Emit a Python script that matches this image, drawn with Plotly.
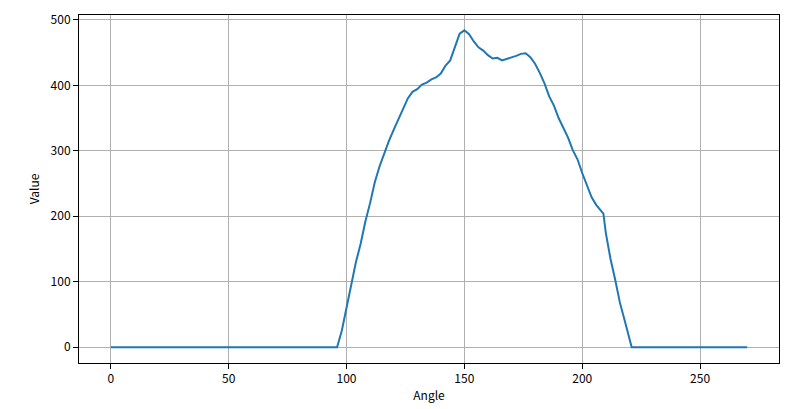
import plotly.graph_objects as go

angles = [0, 96, 98, 100, 102, 104, 106, 108, 110, 112, 114, 116, 118, 120,
          122, 124, 126, 128, 130, 132, 134, 136, 138, 140, 142, 144, 146,
          148, 150, 152, 154, 156, 158, 160, 162, 164, 166, 168, 170, 172,
          174, 176, 178, 180, 182, 184, 186, 188, 190, 192, 194, 196, 198,
          200, 202, 204, 206, 208, 209, 210, 212, 214, 216, 218, 220, 221, 270]
values = [0, 0, 25, 62, 97, 130, 158, 192, 220, 252, 276, 296, 315, 332,
          348, 365, 380, 390, 394, 401, 404, 409, 412, 418, 430, 438, 458,
          479, 484, 478, 467, 458, 453, 446, 441, 442, 438, 440, 442, 445,
          448, 449, 443, 433, 419, 403, 383, 369, 350, 335, 320, 301, 287,
          266, 246, 229, 217, 209, 204, 175, 135, 103, 68, 41, 12, 0, 0]

x_ticks = [0, 50, 100, 150, 200, 250]
y_ticks = [0, 100, 200, 300, 400, 500]

FONT = "Noto Sans CJK SC, DejaVu Sans, sans-serif"

fig = go.Figure()
fig.add_trace(go.Scatter(x=angles, y=values, mode="lines",
                         line=dict(color="#1f77b4", width=2),
                         showlegend=False))

axis_style = dict(showline=True, linecolor="black", linewidth=1, mirror=True,
                  ticks="outside", ticklen=5, tickwidth=1, tickcolor="black",
                  showgrid=True, gridcolor="#b0b0b0", gridwidth=1,
                  zeroline=False, automargin=False,
                  tickfont=dict(family=FONT, size=12, color="black"))

fig.update_xaxes(range=[-13.5, 283.5], tickvals=x_ticks,
                 title=dict(text="Angle", standoff=6,
                            font=dict(family=FONT, size=12, color="black")),
                 **axis_style)
fig.update_yaxes(range=[-24.2, 507.4], tickvals=y_ticks,
                 title=dict(text="Value", standoff=8,
                            font=dict(family=FONT, size=12, color="black")),
                 **axis_style)

fig.update_layout(width=800, height=409,
                  margin=dict(l=79, r=21, t=15, b=46),
                  plot_bgcolor="white", paper_bgcolor="white",
                  font=dict(family=FONT, size=12, color="black"))

# drop the browser's default body margin so the figure sits at the corner
fig.write_html("out.html", config={"displayModeBar": False},
               post_script="document.body.style.margin='0';")
